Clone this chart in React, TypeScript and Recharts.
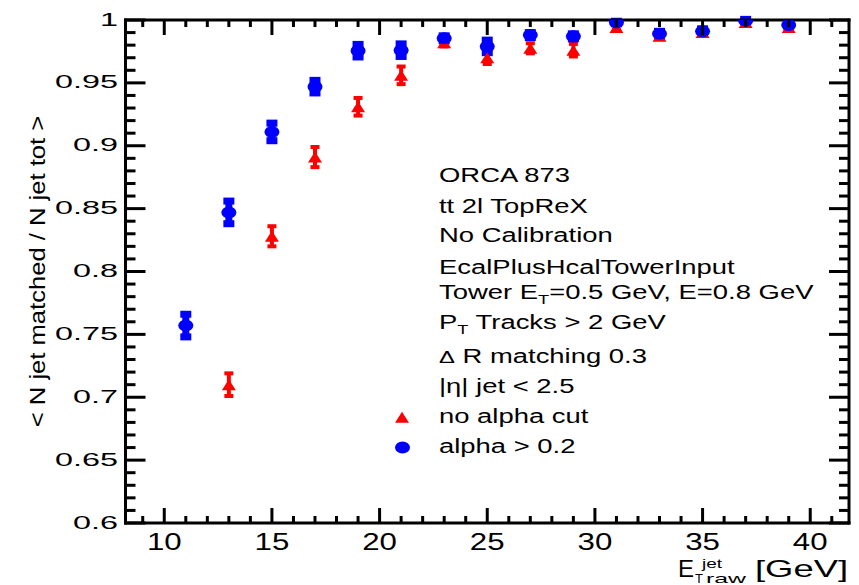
import React from 'react';
import { ScatterChart, Scatter, XAxis, YAxis, ErrorBar } from 'recharts';

// ---------- data ----------
const alphaEnergies = [11, 13, 15, 17, 19, 21, 23, 25, 27, 29, 31, 33, 35, 37, 39];
const alphaEff = [0.757, 0.847, 0.911, 0.947, 0.9756, 0.976, 0.9854, 0.979, 0.988, 0.987, 0.998, 0.989, 0.991, 0.9995, 0.996];
const alphaErr = [0.009, 0.009, 0.007, 0.005, 0.005, 0.005, 0.002, 0.005, 0.002, 0.002, 0.001, 0.002, 0.002, 0.001, 0.001];

const noCutEnergies = [13, 15, 17, 19, 21, 23, 25, 27, 29, 31, 33, 35, 37, 39];
const noCutEff = [0.71, 0.828, 0.891, 0.931, 0.956, 0.982, 0.97, 0.9775, 0.976, 0.994, 0.987, 0.99, 0.998, 0.994];
const noCutErr = [0.009, 0.008, 0.008, 0.007, 0.007, 0.003, 0.005, 0.004, 0.005, 0.002, 0.002, 0.002, 0.001, 0.001];

const xMajorTicks = [10, 15, 20, 25, 30, 35, 40];
const xMajorLabels = ['10', '15', '20', '25', '30', '35', '40'];
const yMajorTicks = [0.6, 0.65, 0.7, 0.75, 0.8, 0.85, 0.9, 0.95, 1.0];
const yMajorLabels = ['0.6', '0.65', '0.7', '0.75', '0.8', '0.85', '0.9', '0.95', '1'];

const infoLines = [
  'ORCA 873',
  'tt 2l TopReX',
  'No Calibration',
  'EcalPlusHcalTowerInput',
];
const legendLabels = ['no alpha cut', 'alpha > 0.2'];

// ---------- derived ----------
const xTicks: number[] = [];
for (let v = 9; v <= 41; v++) xTicks.push(v);
const yTicks: number[] = [];
for (let i = 60; i <= 100; i++) yTicks.push(i / 100);

const alphaData = alphaEnergies.map((x, i) => ({ x, y: alphaEff[i], err: alphaErr[i] }));
const noCutData = noCutEnergies.map((x, i) => ({ x, y: noCutEff[i], err: noCutErr[i] }));

const FONT = '"Liberation Sans", Arial, Helvetica, sans-serif';
const BLUE = '#0000ff';
const RED = '#ff0000';

const isMajorX = (v: number) => xMajorTicks.some((t) => Math.abs(t - v) < 1e-6);
const majorYIndex = (v: number) => yMajorTicks.findIndex((t) => Math.abs(t - v) < 1e-6);

const BottomTick = (p: any) => {
  const { x, y, payload } = p;
  const v = payload.value;
  const major = isMajorX(v);
  const idx = xMajorTicks.findIndex((t) => Math.abs(t - v) < 1e-6);
  return (
    <g>
      <line x1={x} x2={x} y1={y} y2={y - (major ? 15 : 7)} stroke="#000" strokeWidth={3} />
      {major && (
        <text
          transform={`translate(${x},${y + 27}) scale(1.33,1)`}
          textAnchor="middle"
          fontSize={23.5}
          fontFamily={FONT}
          fill="#000"
        >
          {xMajorLabels[idx]}
        </text>
      )}
    </g>
  );
};

const TopTick = (p: any) => {
  const { x, y, payload } = p;
  const major = isMajorX(payload.value);
  return <line x1={x} x2={x} y1={y} y2={y + (major ? 15 : 7)} stroke="#000" strokeWidth={3} />;
};

const LeftTick = (p: any) => {
  const { x, y, payload } = p;
  const idx = majorYIndex(payload.value);
  const major = idx >= 0;
  return (
    <g>
      <line x1={x} x2={x + (major ? 20 : 10)} y1={y} y2={y} stroke="#000" strokeWidth={3} />
      {major && (
        <text
          transform={`translate(${x - 7.5},${y + 5.5}) scale(1.74,1)`}
          textAnchor="end"
          fontSize={18.6}
          fontFamily={FONT}
          fill="#000"
        >
          {yMajorLabels[idx]}
        </text>
      )}
    </g>
  );
};

const RightTick = (p: any) => {
  const { x, y, payload } = p;
  const major = majorYIndex(payload.value) >= 0;
  return <line x1={x} x2={x - (major ? 20 : 10)} y1={y} y2={y} stroke="#000" strokeWidth={3} />;
};

const BlueDot = (p: any) => {
  const { cx, cy } = p;
  if (cx == null || cy == null) return <g />;
  return <ellipse cx={cx} cy={cy} rx={7.5} ry={6} fill={BLUE} />;
};

const RedTriangle = (p: any) => {
  const { cx, cy } = p;
  if (cx == null || cy == null) return <g />;
  return <polygon points={`${cx - 7},${cy + 5.5} ${cx + 7},${cy + 5.5} ${cx},${cy - 5.5}`} fill={RED} />;
};

const NoShape = () => <g />;

const axisLine = { stroke: '#000', strokeWidth: 3, strokeLinecap: 'square' as const };

export default function App() {
  const lineX = 439;
  const textStyle = { fontFamily: FONT, fontSize: 19.6, fill: '#000' };
  const stretch = (y: number) => `translate(${lineX},${y}) scale(1.4,1)`;
  return (
    <div style={{ position: 'absolute', left: 0, top: 0, width: 859, height: 585, background: '#fff' }}>
      <ScatterChart width={859} height={585} margin={{ top: 19, right: 9, bottom: 0, left: 0 }}>
        <XAxis
          xAxisId="b"
          dataKey="x"
          type="number"
          domain={[8.2, 41.8]}
          allowDataOverflow
          ticks={xTicks}
          interval={0}
          height={62}
          tickSize={0}
          tickMargin={0}
          tickLine={false}
          axisLine={axisLine}
          tick={BottomTick}
        />
        <XAxis
          xAxisId="t"
          orientation="top"
          dataKey="x"
          type="number"
          domain={[8.2, 41.8]}
          allowDataOverflow
          ticks={xTicks}
          interval={0}
          height={1}
          tickSize={0}
          tickMargin={0}
          tickLine={false}
          axisLine={axisLine}
          tick={TopTick}
        />
        <YAxis
          yAxisId="l"
          dataKey="y"
          type="number"
          domain={[0.6, 1.0]}
          allowDataOverflow
          ticks={yTicks}
          interval={0}
          width={125.5}
          tickSize={0}
          tickMargin={0}
          tickLine={false}
          axisLine={axisLine}
          tick={LeftTick}
        />
        <YAxis
          yAxisId="r"
          orientation="right"
          dataKey="y"
          type="number"
          domain={[0.6, 1.0]}
          allowDataOverflow
          ticks={yTicks}
          interval={0}
          width={1}
          tickSize={0}
          tickMargin={0}
          tickLine={false}
          axisLine={axisLine}
          tick={RightTick}
        />
        {/* invisible series that binds the top and right frame axes */}
        <Scatter xAxisId="t" yAxisId="r" data={alphaData} shape={NoShape} isAnimationActive={false} legendType="none" />
        <Scatter xAxisId="b" yAxisId="l" data={noCutData} shape={RedTriangle} isAnimationActive={false}>
          <ErrorBar dataKey="err" direction="y" width={4.5} stroke={RED} strokeWidth={4} />
        </Scatter>
        <Scatter xAxisId="b" yAxisId="l" data={alphaData} shape={BlueDot} isAnimationActive={false}>
          <ErrorBar dataKey="err" direction="y" width={5.5} stroke={BLUE} strokeWidth={7} />
        </Scatter>
      </ScatterChart>
      <svg
        width={859}
        height={585}
        style={{ position: 'absolute', left: 0, top: 0, pointerEvents: 'none' }}
      >
        {/* Y axis title */}
        <text
          transform="translate(45,271.5) rotate(-90) scale(1,0.85)"
          textAnchor="middle"
          fontFamily={FONT}
          fontSize={25.6}
          fill="#000"
        >
          {'< N jet matched / N jet tot >'}
        </text>
        {/* X axis title */}
        <text x={678} y={577} fontFamily={FONT} fontSize={24} fill="#000">E</text>
        <text x={702} y={568} fontFamily={FONT} fontSize={13} fill="#000" textLength={20} lengthAdjust="spacingAndGlyphs">jet</text>
        <text x={695} y={583} fontFamily={FONT} fontSize={13} fill="#000">T</text>
        <text x={706} y={583} fontFamily={FONT} fontSize={13} fill="#000" textLength={40} lengthAdjust="spacingAndGlyphs">raw</text>
        <text x={755} y={577} fontFamily={FONT} fontSize={24} fill="#000" textLength={93} lengthAdjust="spacingAndGlyphs">[GeV]</text>

        {/* info text block */}
        <text transform={stretch(182.3)} {...textStyle}>{infoLines[0]}</text>
        <text transform={stretch(213.3)} {...textStyle}>{infoLines[1]}</text>
        <text transform={stretch(241.7)} {...textStyle}>{infoLines[2]}</text>
        <text transform={stretch(274)} {...textStyle}>{infoLines[3]}</text>
        <text transform={stretch(299.3)} {...textStyle}>
          {'Tower E'}
          <tspan fontSize={13} dy={5}>T</tspan>
          <tspan dy={-5}>{'=0.5 GeV, E=0.8 GeV'}</tspan>
        </text>
        <text transform={stretch(329)} {...textStyle}>
          {'P'}
          <tspan fontSize={13} dy={5}>T</tspan>
          <tspan dy={-5}>{' Tracks > 2 GeV'}</tspan>
        </text>
        <text transform={stretch(363.3)} {...textStyle}>
          <tspan fontSize={17}>{'Δ'}</tspan>
          <tspan>{' R matching 0.3'}</tspan>
        </text>
        <text transform={stretch(393.3)} {...textStyle}>{'|η| jet < 2.5'}</text>
        <text transform={stretch(423.3)} {...textStyle}>{legendLabels[0]}</text>
        <text transform={stretch(453.3)} {...textStyle}>{legendLabels[1]}</text>

        {/* legend markers */}
        <polygon points="395,422.7 409,422.7 402,411.7" fill={RED} />
        <ellipse cx={402.5} cy={447.5} rx={7.5} ry={6} fill={BLUE} />
      </svg>
    </div>
  );
}
